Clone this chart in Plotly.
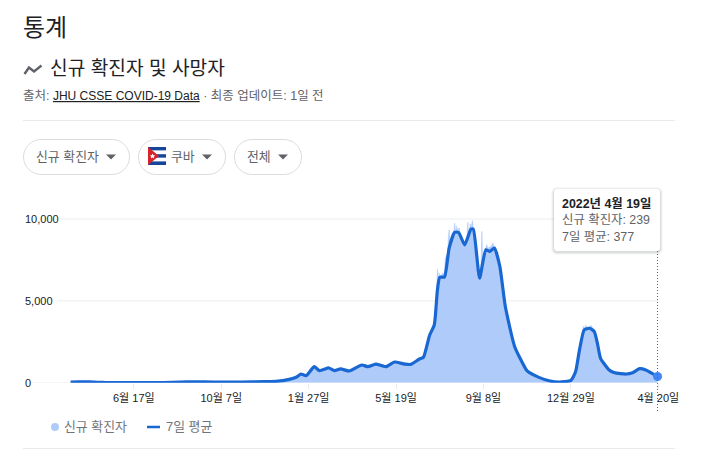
import plotly.graph_objects as go

W, H = 723, 453
FONT = "Liberation Sans, Noto Sans CJK KR, sans-serif"

# ---------- data ----------
avg_dates = ["2020-03-28","2020-04-07","2020-04-14","2020-04-21","2020-04-28","2020-05-05","2020-05-12","2020-06-01","2020-07-01","2020-07-25",
 "2020-08-15","2020-09-01","2020-09-15","2020-10-10","2020-11-01","2020-12-01","2020-12-16","2021-01-02","2021-01-11","2021-01-17","2021-01-24",
 "2021-02-03","2021-02-10","2021-02-22","2021-03-01","2021-03-09","2021-03-20","2021-04-05","2021-04-13","2021-04-23","2021-05-06","2021-05-17",
 "2021-05-30","2021-06-07","2021-06-18","2021-06-23","2021-07-01","2021-07-07","2021-07-11","2021-07-14","2021-07-20","2021-07-26","2021-08-02",
 "2021-08-07","2021-08-15","2021-08-23","2021-08-26","2021-09-03","2021-09-11","2021-09-16","2021-09-22","2021-09-29","2021-10-06","2021-10-18",
 "2021-11-02","2021-11-06","2021-11-18","2021-12-01","2021-12-14","2021-12-29","2022-01-04","2022-01-09","2022-01-15","2022-01-22","2022-01-28",
 "2022-02-01","2022-02-05","2022-02-16","2022-02-23","2022-03-10","2022-03-18","2022-03-27","2022-04-04","2022-04-19"]
avg_values = [30,45,50,50,35,20,12,10,5,6,40,50,45,30,35,65,80,200,330,530,430,
 980,735,900,735,840,715,1080,980,1140,980,1265,1140,1120,1450,1550,2900,3530,5670,6450,6450,8220,9180,
 9180,8425,9380,9380,6385,8120,8020,8220,7100,4650,2200,775,610,325,120,40,140,670,2000,3220,3325,3120,
 2400,1490,775,610,530,610,855,775,377]

case_dates = ["2020-03-28","2020-04-07","2020-04-14","2020-04-21","2020-04-28","2020-05-05","2020-05-12","2020-06-01","2020-07-01","2020-07-25",
 "2020-08-15","2020-09-01","2020-09-15","2020-10-10","2020-11-01","2020-12-01","2020-12-16","2021-01-02","2021-01-11","2021-01-17","2021-01-24",
 "2021-02-03","2021-02-10","2021-02-22","2021-03-01","2021-03-09","2021-03-20","2021-04-05","2021-04-13","2021-04-23","2021-05-06","2021-05-17",
 "2021-05-30","2021-06-07","2021-06-18","2021-06-23","2021-06-28","2021-07-01","2021-07-04","2021-07-07","2021-07-09","2021-07-10","2021-07-11",
 "2021-07-12","2021-07-13","2021-07-14","2021-07-16","2021-07-18","2021-07-20","2021-07-21","2021-07-23","2021-07-24","2021-07-25","2021-07-26",
 "2021-07-27","2021-07-29","2021-07-30","2021-07-31","2021-08-01","2021-08-02","2021-08-03","2021-08-04","2021-08-05","2021-08-06","2021-08-07",
 "2021-08-08","2021-08-09","2021-08-11","2021-08-13","2021-08-15","2021-08-16","2021-08-18","2021-08-19","2021-08-20","2021-08-22","2021-08-23",
 "2021-08-24","2021-08-25","2021-08-26","2021-08-28","2021-08-30","2021-08-31","2021-09-02","2021-09-03","2021-09-05","2021-09-06","2021-09-07",
 "2021-09-09","2021-09-11","2021-09-12","2021-09-14","2021-09-16","2021-09-18","2021-09-20","2021-09-22","2021-09-25","2021-09-29","2021-10-06",
 "2021-10-18","2021-11-02","2021-11-06","2021-11-18","2021-12-01","2021-12-14","2021-12-29","2022-01-04","2022-01-09","2022-01-12","2022-01-14",
 "2022-01-15","2022-01-17","2022-01-19","2022-01-22","2022-01-24","2022-01-28","2022-02-01","2022-02-05","2022-02-16","2022-02-23","2022-03-10",
 "2022-03-18","2022-03-27","2022-04-04","2022-04-19"]
case_values = [35,60,60,55,40,25,15,12,6,8,50,60,50,35,40,75,90,230,360,570,470,
 1030,780,960,790,900,780,1120,1040,1190,1040,1310,1190,1160,1490,1600,2400,3000,3200,3750,4500,5500,6940,
 6000,6700,6450,6550,6700,6500,7600,7800,7600,8800,9340,8300,8500,9100,8900,9200,9750,8800,9600,8900,9450,8700,
 9450,8500,8900,8300,8600,8300,9000,9800,8900,9700,9300,9700,9900,9200,8300,7600,7000,6600,6300,7400,9240,7300,
 7800,8400,8425,8200,8300,8300,8530,8250,7700,7150,4700,2250,800,630,340,130,50,150,720,2100,3000,3450,
 3300,3500,3400,3400,3500,3150,2450,1530,800,630,550,630,880,800,239]

y_ticks = [0, 5000, 10000]
y_labels = ["0", "5,000", "10,000"]
x_ticks = ["2020-06-17","2020-10-07","2021-01-27","2021-05-19","2021-09-08","2021-12-29","2022-04-20"]
x_labels = ["6월 17일","10월 7일","1월 27일","5월 19일","9월 8일","12월 29일","4월 20일"]
last_date, last_avg = "2022-04-19", 377

BLUE, LIGHT = "#1967d2", "#aecbfa"
DARK, GREY = "#202124", "#5f6368"
LINE = "#e8eaed"

def px(x): return x / W
def py(y): return 1 - y / H

fig = go.Figure()
fig.add_trace(go.Scatter(x=case_dates, y=case_values, mode="lines", name="신규 확진자",
                         line=dict(color=LIGHT, width=0.6), fill="tozeroy", fillcolor=LIGHT, hoverinfo="skip"))
fig.add_trace(go.Scatter(x=avg_dates, y=avg_values, mode="lines", name="7일 평균",
                         line=dict(color=BLUE, width=3.2, shape="spline", smoothing=0.5), hoverinfo="skip"))
fig.add_trace(go.Scatter(x=[last_date], y=[last_avg], mode="markers", marker=dict(color="#4285f4", size=9),
                         hoverinfo="skip", cliponaxis=False))

shapes, ann = [], []

def path_px(points, close=True):
    s = " ".join(("M" if i == 0 else "L") + f"{px(x):.5f},{py(y):.5f}" for i, (x, y) in enumerate(points))
    return s + (" Z" if close else "")

def poly(points, fill):
    shapes.append(dict(type="path", xref="paper", yref="paper", path=path_px(points), fillcolor=fill, line_width=0))

def hline(x0, x1, y, color=LINE, width=1):
    shapes.append(dict(type="line", xref="paper", yref="paper", x0=px(x0), x1=px(x1), y0=py(y), y1=py(y),
                       line=dict(color=color, width=width)))

def rrect(x0, y0, x1, y1, r, line=None, fill=None, lw=1):
    k = 0.55 * r
    X, Y = px, py
    d = (f"M{X(x0+r)},{Y(y0)} L{X(x1-r)},{Y(y0)} C{X(x1-r+k)},{Y(y0)} {X(x1)},{Y(y0+r-k)} {X(x1)},{Y(y0+r)} "
         f"L{X(x1)},{Y(y1-r)} C{X(x1)},{Y(y1-r+k)} {X(x1-r+k)},{Y(y1)} {X(x1-r)},{Y(y1)} "
         f"L{X(x0+r)},{Y(y1)} C{X(x0+r-k)},{Y(y1)} {X(x0)},{Y(y1-r+k)} {X(x0)},{Y(y1-r)} "
         f"L{X(x0)},{Y(y0+r)} C{X(x0)},{Y(y0+r-k)} {X(x0+r-k)},{Y(y0)} {X(x0+r)},{Y(y0)} Z")
    shapes.append(dict(type="path", xref="paper", yref="paper", path=d,
                       fillcolor=fill if fill else "rgba(0,0,0,0)",
                       line=dict(color=line if line else "rgba(0,0,0,0)", width=lw if line else 0)))

def text(x, y, t, size=12, color=DARK, anchor="left"):
    ann.append(dict(x=px(x), y=py(y), xref="paper", yref="paper", text=t, showarrow=False, xanchor=anchor,
                    yanchor="middle", align="left", font=dict(size=size, color=color, family=FONT),
                    borderpad=0, borderwidth=0))

# header
text(23, 28, "통계", 24, DARK)
shapes.append(dict(type="path", xref="paper", yref="paper", path=path_px([(24.5, 74), (29, 67.5), (34, 71.5), (41.5, 65.5)], False),
                   line=dict(color=GREY, width=2.4), fillcolor="rgba(0,0,0,0)"))
text(50, 68.5, "신규 확진자 및 사망자", 19.2, "#202124")
text(23, 96, f"<span style='color:{GREY};font-size:12.5px'>출처: </span><a href='#' style='color:{DARK}'><u>JHU CSSE COVID-19 Data</u></a>"
             f"<span style='color:{GREY};font-size:12.5px'> · 최종 업데이트: 1일 전</span>", 12, DARK)
hline(23, 675, 120.5)

# filter pills
rrect(23.5, 139.5, 129.5, 174.5, 17.5, line="#dadce0")
rrect(138.5, 139.5, 225.5, 174.5, 17.5, line="#dadce0")
rrect(234.5, 139.5, 301.5, 174.5, 17.5, line="#dadce0")
text(36, 156.5, "신규 확진자", 12.9, GREY)
text(171, 156.5, "쿠바", 12.9, GREY)
text(247, 156.5, "전체", 12.9, GREY)
for cx in (111, 207, 283):
    poly([(cx - 5, 154.5), (cx + 5, 154.5), (cx, 159.5)], GREY)

# flag
fx0, fx1, fy0 = 148, 166, 147
for i, c in enumerate(["#16459c", "#ffffff", "#16459c", "#ffffff", "#16459c"]):
    poly([(fx0, fy0 + i * 3.6), (fx1, fy0 + i * 3.6), (fx1, fy0 + (i + 1) * 3.6), (fx0, fy0 + (i + 1) * 3.6)], c)
poly([(fx0, fy0), (fx0 + 11, fy0 + 9), (fx0, fy0 + 18)], "#d5222b")
poly([(152.5, 153.6), (153.3, 155.3), (155.2, 155.5), (153.8, 156.7), (154.2, 158.6), (152.5, 157.6), (150.8, 158.6),
      (151.2, 156.7), (149.8, 155.5), (151.7, 155.3)], "#ffffff")

# gridlines + y labels via the y scale
grid_start = {0: 30, 5000: 57, 10000: 60}
for v, lab in zip(y_ticks, y_labels):
    shapes.append(dict(type="line", xref="paper", yref="y", x0=px(grid_start[v]), x1=px(658.3), y0=v, y1=v,
                       line=dict(color="#f1f3f4", width=1.5), layer="below"))
    ann.append(dict(x=px(23), y=v, xref="paper", yref="y", text=lab, showarrow=False, xanchor="left", yanchor="middle",
                    font=dict(size=11, color=DARK, family=FONT)))

# hover line
shapes.append(dict(type="line", xref="x", yref="paper", x0=last_date, x1=last_date, y0=py(251), y1=py(413),
                   line=dict(color="#5f6368", width=1, dash="1px,2px")))

# tooltip
for grow, alpha in ((3, .04), (2, .06), (1, .09)):
    rrect(554 - grow, 189 - grow + 1, 660 + grow, 251 + grow + 1, 3 + grow, fill=f"rgba(60,64,67,{alpha})")
rrect(554, 189, 660, 251, 3, fill="#ffffff")
text(562, 203, "<b>2022년 4월 19일</b>", 12.4, DARK)
text(562, 220, "신규 확진자: 239", 12.4, GREY)
text(562, 237, "7일 평균: 377", 12.4, GREY)

# legend
shapes.append(dict(type="circle", xref="paper", yref="paper", x0=px(51), x1=px(59), y0=py(423), y1=py(431),
                   fillcolor=LIGHT, line_width=0))
text(64, 426.5, "신규 확진자", 12.9, "#70757a")
hline(147, 160, 427, BLUE, 2.5)
text(166, 426.5, "7일 평균", 12.9, "#70757a")
hline(23, 675, 448.5)

for s in shapes:
    s.setdefault("layer", "above")

fig.update_layout(
    width=W, height=H, margin=dict(l=0, r=0, t=0, b=0, autoexpand=False), paper_bgcolor="#ffffff", plot_bgcolor="#ffffff",
    showlegend=False, shapes=shapes, annotations=ann, font=dict(family=FONT),
    xaxis=dict(domain=[px(30), px(659.08)], range=["2020-02-05", "2022-04-21"], type="date", tickmode="array",
               tickvals=x_ticks, ticktext=x_labels, ticks="outside", ticklen=5, tickcolor=LINE, showgrid=False,
               zeroline=False, showline=False, tickfont=dict(size=11, color=DARK, family=FONT), fixedrange=True),
    yaxis=dict(domain=[py(382.7), py(190)], range=[0, 11771], showgrid=False, zeroline=False, showline=False,
               showticklabels=False, ticks="", fixedrange=True),
)
fig.write_html("out.html", config=dict(displayModeBar=False),
               post_script="document.body.style.margin='0';document.body.style.overflow='hidden';")
